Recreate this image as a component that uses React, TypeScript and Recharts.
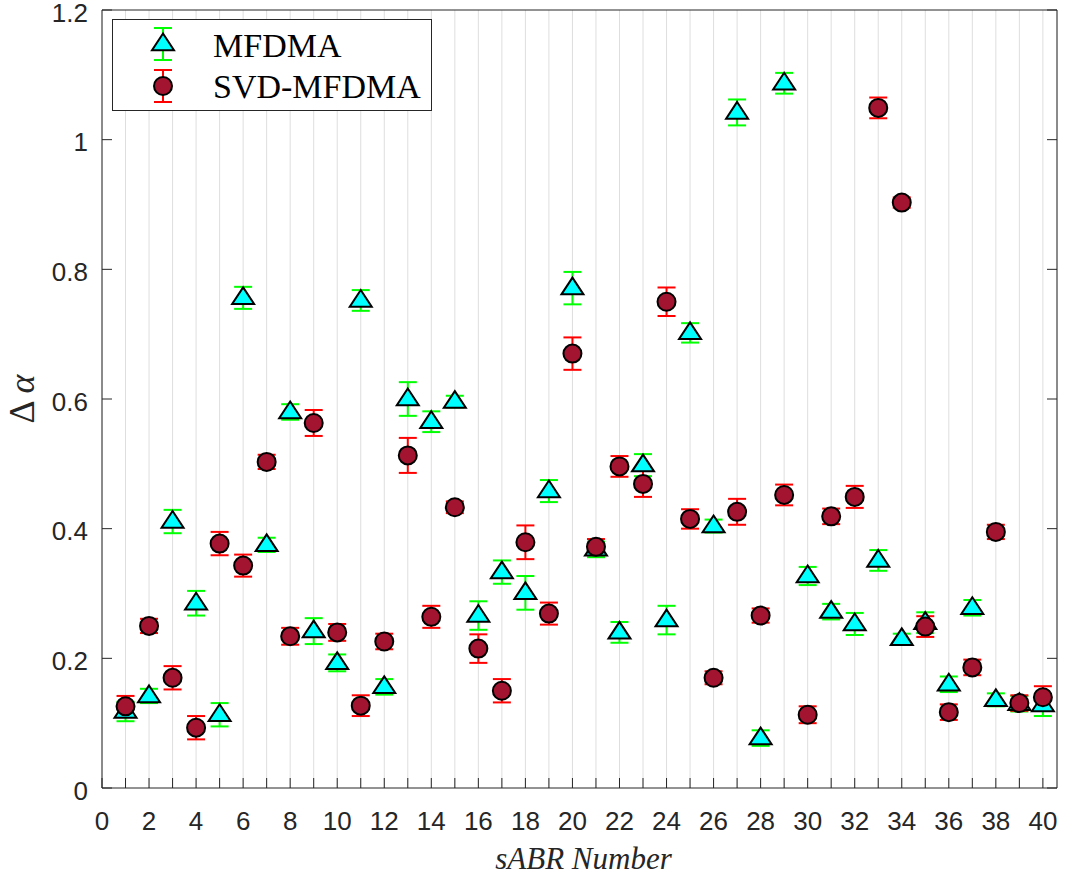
import React from 'react';
import { ScatterChart, Scatter, XAxis, YAxis, CartesianGrid, ErrorBar, Legend } from 'recharts';

// sABR index on the x axis
const sabrNumbers = [
  1, 2, 3, 4, 5, 6, 7, 8, 9, 10, 11, 12, 13, 14, 15, 16, 17, 18, 19, 20,
  21, 22, 23, 24, 25, 26, 27, 28, 29, 30, 31, 32, 33, 34, 35, 36, 37, 38, 39, 40,
];

const mfdmaValues = [
  0.118, 0.142, 0.411, 0.285, 0.113, 0.756, 0.375, 0.58, 0.242, 0.193,
  0.752, 0.156, 0.6, 0.565, 0.596, 0.266, 0.333, 0.301, 0.458, 0.771,
  0.368, 0.24, 0.498, 0.259, 0.702, 0.404, 1.042, 0.077, 1.087, 0.327,
  0.272, 0.253, 0.351, 0.23, 0.255, 0.16, 0.278, 0.136, 0.13, 0.128,
];
const mfdmaErrors = [
  0.015, 0.011, 0.018, 0.019, 0.018, 0.017, 0.011, 0.012, 0.02, 0.013,
  0.016, 0.012, 0.026, 0.016, 0.009, 0.022, 0.018, 0.026, 0.017, 0.025,
  0.012, 0.016, 0.017, 0.022, 0.015, 0.01, 0.02, 0.012, 0.016, 0.014,
  0.012, 0.017, 0.016, 0.008, 0.016, 0.012, 0.012, 0.01, 0.012, 0.017,
];

const svdValues = [
  0.126, 0.25, 0.17, 0.093, 0.377, 0.343, 0.503, 0.234, 0.563, 0.24,
  0.127, 0.226, 0.513, 0.264, 0.433, 0.215, 0.15, 0.379, 0.269, 0.67,
  0.372, 0.496, 0.469, 0.75, 0.415, 0.17, 0.426, 0.266, 0.452, 0.113,
  0.419, 0.449, 1.049, 0.903, 0.249, 0.117, 0.186, 0.395, 0.131, 0.14,
];
const svdErrors = [
  0.016, 0.011, 0.018, 0.018, 0.018, 0.017, 0.011, 0.013, 0.02, 0.013,
  0.016, 0.012, 0.027, 0.017, 0.009, 0.022, 0.018, 0.026, 0.017, 0.025,
  0.012, 0.016, 0.02, 0.022, 0.015, 0.01, 0.02, 0.011, 0.016, 0.013,
  0.012, 0.017, 0.016, 0.008, 0.016, 0.012, 0.012, 0.011, 0.012, 0.017,
];

const xTicks = [
  0, 1, 2, 3, 4, 5, 6, 7, 8, 9, 10, 11, 12, 13, 14, 15, 16, 17, 18, 19, 20,
  21, 22, 23, 24, 25, 26, 27, 28, 29, 30, 31, 32, 33, 34, 35, 36, 37, 38, 39, 40,
];
const yTicks = [0, 0.2, 0.4, 0.6, 0.8, 1, 1.2];

const mfdmaData = sabrNumbers.map((x, i) => ({ x, y: mfdmaValues[i], err: mfdmaErrors[i] }));
const svdData = sabrNumbers.map((x, i) => ({ x, y: svdValues[i], err: svdErrors[i] }));

const AXIS = '#262626';
const TICK_FONT = '"Liberation Sans", Arial, sans-serif';
const SERIF = '"Liberation Serif", "Times New Roman", serif';

const Triangle = ({ cx, cy }: any) => (
  <polygon
    points={`${cx},${cy - 10.5} ${cx + 11},${cy + 6.2} ${cx - 11},${cy + 6.2}`}
    fill="#00ffff"
    stroke="#000"
    strokeWidth={2}
  />
);

const Dot = ({ cx, cy }: any) => (
  <circle cx={cx} cy={cy} r={9} fill="#a2142f" stroke="#000" strokeWidth={2} />
);

const BottomTick = ({ x, y, payload }: any) => (
  <g>
    <line x1={x} y1={y} x2={x} y2={y - 10} stroke={AXIS} />
    {payload.value % 2 === 0 && (
      <text x={x} y={y + 42} textAnchor="middle" fontSize={26} fontFamily={TICK_FONT} fill={AXIS}>
        {payload.value}
      </text>
    )}
  </g>
);

const TopTick = ({ x, y }: any) => <line x1={x} y1={y} x2={x} y2={y + 10} stroke={AXIS} />;

const LeftTick = ({ x, y, payload }: any) => (
  <g>
    <line x1={x} y1={y} x2={x + 10} y2={y} stroke={AXIS} />
    <text x={x - 14} y={y + 11.5} textAnchor="end" fontSize={26} fontFamily={TICK_FONT} fill={AXIS}>
      {String(payload.value)}
    </text>
  </g>
);

const RightTick = ({ x, y }: any) => <line x1={x} y1={y} x2={x - 10} y2={y} stroke={AXIS} />;

const LegendBox = () => (
  <svg width={321} height={93}>
    <rect x={0.5} y={0.5} width={319} height={91} fill="#fff" stroke={AXIS} />
    <line x1={51} y1={9} x2={51} y2={41} stroke="#00ff00" strokeWidth={2} />
    <line x1={42} y1={9} x2={60} y2={9} stroke="#00ff00" strokeWidth={2} />
    <line x1={42} y1={41} x2={60} y2={41} stroke="#00ff00" strokeWidth={2} />
    <Triangle cx={51} cy={25} />
    <text x={101} y={38} fontSize={34} fontFamily={SERIF} fill="#000">MFDMA</text>
    <line x1={51} y1={51} x2={51} y2={83} stroke="#ff0000" strokeWidth={2} />
    <line x1={42} y1={51} x2={60} y2={51} stroke="#ff0000" strokeWidth={2} />
    <line x1={42} y1={83} x2={60} y2={83} stroke="#ff0000" strokeWidth={2} />
    <Dot cx={51} cy={67} />
    <text x={101} y={79} fontSize={34} fontFamily={SERIF} fill="#000">SVD-MFDMA</text>
  </svg>
);

const App = () => (
  <div style={{ position: 'absolute', left: 0, top: 0, background: '#fff' }}>
    <ScatterChart width={1066} height={877} margin={{ top: 9, right: 8, bottom: 0, left: 0 }}>
      <CartesianGrid horizontal={false} stroke="#dedede" strokeWidth={1} />
      <XAxis
        type="number"
        dataKey="x"
        domain={[0, 40.6]}
        ticks={xTicks}
        interval={0}
        height={89}
        tickSize={0}
        tickMargin={0}
        stroke={AXIS}
        tick={<BottomTick />}
        allowDataOverflow
        label={{
          content: ({ viewBox }: any) => (
            <text
              x={viewBox.x + viewBox.width / 2 + 4}
              y={viewBox.y + 81}
              textAnchor="middle"
              fontSize={31}
              fontStyle="italic"
              fontFamily={SERIF}
              fill={AXIS}
            >
              sABR Number
            </text>
          ),
        }}
      />
      <XAxis
        xAxisId="top"
        orientation="top"
        type="number"
        domain={[0, 40.6]}
        ticks={xTicks}
        interval={0}
        height={1}
        tickSize={0}
        tickMargin={0}
        stroke={AXIS}
        tick={<TopTick />}
        allowDataOverflow
      />
      <YAxis
        type="number"
        dataKey="y"
        domain={[0, 1.2]}
        ticks={yTicks}
        interval={0}
        width={102}
        tickSize={0}
        tickMargin={0}
        stroke={AXIS}
        tick={<LeftTick />}
        allowDataOverflow
        label={{
          content: ({ viewBox }: any) => {
            const cy = viewBox.y + viewBox.height / 2;
            return (
              <text
                x={34}
                y={cy}
                transform={`rotate(-90 34 ${cy})`}
                textAnchor="middle"
                fontSize={36}
                fontFamily={SERIF}
                fill={AXIS}
              >
                Δ <tspan fontStyle="italic">α</tspan>
              </text>
            );
          },
        }}
      />
      <YAxis
        yAxisId="right"
        orientation="right"
        type="number"
        domain={[0, 1.2]}
        ticks={yTicks}
        interval={0}
        width={1}
        tickSize={0}
        tickMargin={0}
        stroke={AXIS}
        tick={<RightTick />}
        allowDataOverflow
      />
      <Legend
        layout="horizontal"
        verticalAlign="middle"
        align="center"
        wrapperStyle={{ left: 112, top: 19, width: 321, height: 93 }}
        content={() => <LegendBox />}
      />
      <Scatter name="MFDMA" data={mfdmaData} shape={<Triangle />} isAnimationActive={false}>
        <ErrorBar dataKey="err" direction="y" width={9} stroke="#00ff00" strokeWidth={2} isAnimationActive={false} />
      </Scatter>
      <Scatter name="SVD-MFDMA" data={svdData} shape={<Dot />} isAnimationActive={false}>
        <ErrorBar dataKey="err" direction="y" width={9} stroke="#ff0000" strokeWidth={2} isAnimationActive={false} />
      </Scatter>
    </ScatterChart>
  </div>
);

export default App;
